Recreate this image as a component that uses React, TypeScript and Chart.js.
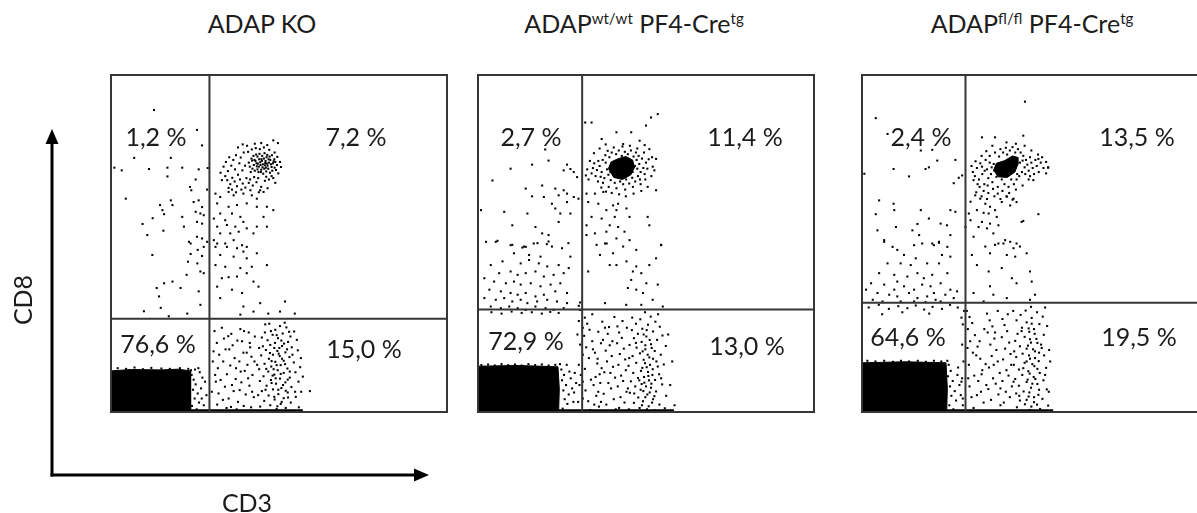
import React, { useEffect, useRef } from 'react';
import { Chart, registerables } from 'chart.js';

Chart.register(...registerables);

// ---------- axes / gates (channel units 0..1000) ----------
const AXIS_MIN = 0;
const AXIS_MAX = 1000;

// ---------- ADAP KO ----------
const koGate = [293, 277];
const koPct = ['1,2 %', '7,2 %', '76,6 %', '15,0 %'];
const koUpperLeft = [
  128,896, 256,837, 271,791, 69,754, 178,754, 10,725, 32,717, 113,721, 168,725, 212,725, 261,720, 288,724,
  168,699, 252,690, 235,668, 239,658, 286,660, 44,633, 146,614, 153,599, 178,628, 183,614, 158,587, 124,575,
  212,579, 94,558, 156,538, 108,525, 217,550, 246,623, 261,628, 271,608, 252,594, 266,589, 276,584, 256,564,
  271,559, 232,505, 256,520, 271,515, 286,505, 123,466, 237,469, 258,481, 229,446, 257,441, 266,417, 276,412,
  225,407, 158,382, 183,387, 136,368, 207,368, 261,358, 143,343, 266,318, 148,309, 98,299, 172,284, 227,292,
  271,463, 237,500, 276,490,
];
const koStream = [
  311,648, 325,638, 350,653, 365,643, 394,648, 419,643, 444,658, 454,653, 434,633, 316,619, 350,609, 375,614,
  404,619, 325,589, 360,589, 385,579, 434,609, 464,609, 306,574, 340,569, 394,564, 316,550, 345,555, 370,550,
  404,545, 434,550, 454,579, 325,530, 355,530, 380,535, 424,530, 306,510, 340,500, 365,510, 390,495, 311,490,
  404,490, 464,550, 483,599, 316,500, 345,490, 375,486, 394,476, 325,466, 365,461, 404,456, 434,471, 464,436,
  311,436, 340,431, 385,427, 419,431, 330,397, 350,400, 375,402, 404,412, 424,387, 316,372, 360,363, 390,353,
  439,372, 518,328, 394,313, 444,323, 325,338, 468,292, 385,289, 503,298, 547,292, 424,298,
];
const koUpperRight = [
  410,740, 418,752, 425,733, 430,745, 436,758, 440,728, 444,741, 448,750, 452,735, 456,722, 460,745, 463,756,
  466,731, 470,740, 474,748, 478,727, 482,738, 486,750, 421,722, 428,716, 434,729, 439,712, 447,719, 453,707,
  458,732, 462,714, 468,722, 473,710, 480,716, 487,725, 413,728, 416,712, 424,760, 432,764, 442,766, 450,760,
  457,768, 465,763, 472,758, 479,762, 489,742, 494,733, 491,718, 445,733, 449,745, 455,752, 459,739, 437,737,
  441,750, 427,748, 433,738, 451,726, 464,737, 469,750, 476,735, 484,744, 461,725, 446,712, 436,720, 420,746,
  335,728, 342,742, 348,715, 352,756, 358,731, 364,748, 369,720, 372,762, 378,704, 382,738, 386,755, 391,717,
  395,770, 399,731, 403,694, 408,772, 414,690, 419,779, 426,697, 431,783, 438,694, 443,780, 455,785, 462,698,
  471,778, 478,700, 487,770, 495,757, 498,708, 503,742, 506,727, 340,700, 346,688, 355,676, 361,695, 368,684,
  375,670, 384,690, 392,678, 400,666, 410,680, 422,672, 433,682, 447,668, 458,686, 470,690, 483,694, 489,680,
  378,785, 392,794, 405,790, 428,796, 447,798, 465,792, 350,665, 330,688, 326,710, 360,660, 372,652, 388,660,
  415,658, 440,652, 466,664, 497,798, 483,806,
];
const koLowerRightSparse = [
  308,240, 315,205, 322,170, 318,130, 312,90, 320,55, 316,22, 330,250, 336,218, 341,186, 334,150, 345,112,
  339,75, 350,40, 344,12, 358,232, 362,198, 368,160, 355,138, 371,98, 365,62, 378,30, 374,8, 385,246, 390,210,
  394,176, 382,150, 398,122, 388,88, 401,52, 395,18, 410,236, 414,192, 418,164, 406,140, 421,110, 412,78,
  425,44, 417,14, 428,224, 305,180, 310,110, 326,95, 352,186, 376,212, 404,176, 420,60, 333,36, 360,80,
  386,120, 396,240, 349,225, 372,130, 408,100, 427,150, 300,60, 303,150, 357,15, 383,65, 413,205, 592,62,
];
const koLowerRightCore = [
  471,262, 503,255, 489,244, 522,251, 545,239, 458,236, 481,229, 511,233, 534,224, 497,219, 466,213, 449,221,
  527,208, 553,214, 488,205, 509,196, 474,199, 441,190, 538,192, 461,184, 495,181, 519,177, 556,183, 482,170,
  502,166, 447,168, 531,163, 470,158, 514,152, 489,149, 544,147, 457,143, 505,139, 477,135, 525,129, 563,133,
  441,127, 496,124, 468,120, 514,116, 486,111, 549,118, 454,106, 532,102, 503,99, 476,95, 519,88, 443,92,
  491,84, 558,90, 463,78, 537,74, 507,71, 482,67, 449,62, 526,58, 498,53, 469,49, 550,45, 514,41, 487,37,
  456,33, 535,28, 505,24, 474,20, 444,16, 520,12, 493,9, 559,14, 465,5, 532,3,
  493,228, 507,212, 486,190, 515,203, 499,173, 524,186, 478,151, 509,158, 493,139, 518,142, 484,127, 505,113,
  526,96, 490,100, 512,80, 478,86, 498,66, 520,63, 486,45, 508,30, 495,17, 527,43, 481,108, 532,120, 501,190,
  473,175, 540,170, 462,128, 548,60, 460,66, 476,240, 530,238, 452,195, 565,160, 571,105, 438,50, 566,60,
  435,140, 459,260, 517,265,
];
const koLowerLeftEdge = [
  240,110, 246,96, 252,82, 244,66, 258,55, 249,40, 262,28, 241,18, 255,8, 268,70, 272,102, 264,118, 238,124,
  270,40, 250,126, 20,130, 45,128, 70,132, 95,127, 120,131, 150,129, 175,128, 205,130, 230,128, 280,90,
  276,20, 260,130, 284,50,
];
const koSolid = [0,0, 0,122, 60,126, 150,125, 200,127, 236,122, 238,60, 236,0];
const koPile = [0,4, 571,4];

// ---------- ADAP wt/wt PF4-Cre tg ----------
const wtGate = [310, 304];
const wtPct = ['2,7 %', '11,4 %', '72,9 %', '13,0 %'];
const wtUpperLeft = [
  200,779, 210,746, 161,734, 97,722, 43,687, 265,734, 275,721, 255,717, 285,712, 295,697, 191,672, 142,663,
  230,663, 255,658, 161,640, 196,638, 240,643, 265,648, 285,638, 299,633, 220,618, 265,623, 9,599, 78,594,
  147,589, 230,604, 245,589, 275,589, 102,554, 171,549, 240,564, 191,530, 210,525, 24,505, 58,508, 97,495,
  132,488, 142,490, 177,501, 210,506, 269,501, 53,505, 102,496, 137,491, 166,500, 205,498, 220,491, 250,486,
  107,471, 152,466, 186,461, 275,461, 38,436, 73,447, 127,441, 152,451, 181,441, 206,432, 240,436, 270,427,
  63,412, 97,417, 118,407, 142,412, 171,417, 196,402, 225,407, 255,412, 19,397, 48,387, 83,382, 107,387,
  127,378, 157,382, 186,373, 216,378, 245,382, 34,363, 68,358, 97,353, 118,348, 142,353, 171,343, 196,348,
  230,358, 265,353, 19,338, 53,333, 78,338, 102,328, 127,333, 147,323, 176,328, 206,333, 235,328, 265,323,
  38,313, 68,308, 93,313, 118,308, 142,303, 171,313, 201,308, 225,303, 255,308, 304,303, 300,315, 304,325,
];
const wtStream = [
  323,648, 348,648, 373,653, 328,623, 358,618, 402,613, 417,618, 382,599, 412,599, 442,604, 338,579, 368,574,
  407,579, 451,579, 505,579, 323,554, 392,554, 417,549, 348,530, 382,535, 436,535, 510,554, 530,658, 323,525,
  412,515, 451,510, 545,495, 378,500, 353,496, 383,500, 432,491, 545,496, 471,481, 328,417, 392,436, 412,436,
  442,447, 471,432, 510,436, 461,417, 486,412, 456,392, 501,382, 535,378, 446,368, 471,363, 491,353, 520,333,
  441,318, 486,318, 378,323, 550,313, 363,466, 402,471, 530,456,
];
const wtUpperRight = [
  362,730, 368,712, 371,748, 376,694, 379,762, 384,720, 388,704, 391,756, 395,688, 398,770, 403,735, 407,680,
  411,765, 415,700, 419,776, 423,684, 428,760, 432,676, 437,772, 441,690, 446,765, 450,678, 455,776, 459,695,
  463,758, 468,684, 472,748, 476,700, 480,736, 484,712, 488,752, 492,724, 496,706, 500,740, 474,722, 478,760,
  470,770, 365,698, 358,745, 386,775, 404,785, 430,788, 452,790, 474,782, 494,770, 504,722, 508,750, 372,680,
  389,668, 412,664, 438,660, 461,668, 484,676, 498,690, 380,740, 393,726, 460,712, 467,730, 394,712, 482,690,
  354,718, 350,700, 346,738, 342,724, 338,708, 333,745, 329,690, 325,720, 321,702, 357,684, 367,666, 381,654,
  398,650, 420,646, 440,640, 463,648, 486,656, 505,668, 516,700, 520,728, 518,756, 510,780, 496,792, 345,768,
  362,782, 380,794, 515,874, 535,884, 500,850, 319,859, 338,859, 412,830, 456,830, 368,810, 481,805, 432,795,
  530,751, 525,717,
];
const wtCore = [388,722, 396,742, 418,752, 440,758, 460,748, 466,726, 455,704, 430,690, 404,696];
const wtLowerRightSparse = [
  318,280, 325,262, 332,244, 316,226, 340,210, 322,192, 348,176, 330,160, 355,144, 318,128, 362,112, 336,96,
  344,80, 320,64, 352,48, 328,32, 360,16, 334,6, 370,268, 378,250, 386,232, 372,214, 392,198, 380,182, 398,166,
  384,150, 402,134, 376,118, 408,102, 388,86, 396,70, 374,54, 404,38, 382,22, 410,8, 415,254, 420,236, 428,220,
  414,204, 434,188, 422,172, 438,156, 418,140, 440,124, 426,108, 432,92, 416,76, 442,60, 424,44, 436,28,
  420,12, 358,238, 366,204, 342,186, 312,170, 356,158, 368,130, 350,104, 312,90, 364,86, 358,60, 312,40,
  346,22, 394,116, 400,210, 366,30, 390,252, 406,282, 430,270, 340,290, 312,250, 304,200, 300,140, 302,80,
  298,30, 306,110, 296,230, 300,270,
];
const wtLowerRightCore = [
  497,296, 514,283, 483,275, 528,268, 470,262, 506,259, 541,253, 489,247, 458,243, 521,239, 476,232, 549,227,
  501,224, 464,219, 533,214, 487,208, 515,201, 451,199, 559,196, 472,191, 498,186, 526,181, 482,174, 544,170,
  460,166, 510,162, 493,155, 531,150, 471,146, 553,141, 448,137, 502,133, 520,127, 485,122, 462,116, 539,112,
  507,107, 476,101, 527,95, 455,91, 495,87, 548,82, 468,76, 515,72, 484,66, 530,61, 452,57, 504,52, 560,48,
  477,43, 521,38, 491,32, 464,27, 540,22, 508,17, 481,12, 449,8, 525,5, 556,11,
  502,243, 493,230, 511,214, 498,198, 517,190, 490,180, 505,170, 521,158, 497,145, 512,140, 489,131, 506,119,
  519,110, 494,104, 509,94, 487,83, 500,76, 516,84, 492,62, 511,58, 498,44, 518,28, 488,20, 503,8, 525,47,
  480,94, 535,135, 470,205, 545,100, 465,55, 572,80, 578,150, 566,230, 585,20, 459,280, 536,290, 443,250,
  450,160, 446,70,
];
const wtLowerLeftEdge = [
  248,126, 256,110, 250,94, 262,80, 254,64, 270,52, 258,38, 266,24, 252,10, 276,100, 280,70, 272,120, 284,30,
  264,140, 244,142, 230,140, 210,138, 190,141, 170,139, 150,142, 130,138, 110,141, 90,139, 70,142, 50,138,
  30,141, 10,139, 288,116, 292,86, 286,58, 40,296, 70,292, 100,298, 130,294, 160,296, 190,292, 215,297, 240,294,
];
const wtSolid = [0,0, 0,136, 120,138, 238,134, 242,70, 240,0];
const wtPile = [0,4, 583,4];

// ---------- ADAP fl/fl PF4-Cre tg ----------
const flGate = [308, 324];
const flPct = ['2,4 %', '13,5 %', '64,6 %', '19,5 %'];
const flUpperLeft = [
  41,872, 76,825, 175,776, 209,778, 224,746, 94,721, 140,699, 189,721, 199,726, 278,748, 288,695, 298,702,
  273,679, 7,707, 51,628, 94,618, 41,587, 96,599, 175,599, 199,574, 263,599, 278,594, 165,558, 234,559,
  101,549, 150,539, 170,525, 209,500, 229,502, 263,525, 46,539, 66,510, 91,490, 155,495, 253,554, 66,505,
  105,481, 179,500, 214,495, 229,505, 254,490, 125,466, 160,456, 238,466, 263,461, 76,441, 115,441, 145,436,
  194,441, 229,441, 51,412, 96,407, 135,402, 165,412, 184,397, 209,407, 254,412, 27,382, 66,378, 105,387,
  125,373, 155,363, 179,378, 204,373, 234,382, 263,363, 12,363, 46,353, 81,348, 105,343, 140,353, 165,338,
  194,343, 219,333, 248,348, 283,358, 273,338, 32,333, 61,328, 115,328, 155,328, 189,326, 234,328, 96,363,
  214,353,
];
const flStream = [
  323,624, 337,643, 352,633, 367,618, 381,609, 342,599, 362,591, 377,589, 396,599, 401,579, 357,564, 381,559,
  406,554, 431,639, 451,633, 416,623, 441,613, 460,623, 347,549, 391,530, 323,569, 372,545, 332,520, 406,500,
  460,500, 426,510, 441,505, 318,589, 480,567, 308,549, 367,491, 396,496, 421,500, 451,486, 470,491, 327,466,
  381,471, 431,466, 456,461, 490,471, 342,436, 377,417, 416,427, 500,417, 446,397, 460,382, 381,373, 505,387,
  332,353, 391,348, 515,348, 431,338, 500,333, 362,328,
];
const flUpperRight = [
  330,712, 336,700, 342,724, 348,690, 352,738, 358,706, 364,676, 368,748, 372,720, 376,694, 380,760, 384,706,
  388,682, 392,736, 396,770, 400,698, 404,668, 408,758, 412,780, 416,690, 420,770, 424,676, 428,784, 432,764,
  436,668, 440,776, 444,690, 448,786, 452,676, 456,770, 460,690, 464,780, 468,700, 472,770, 476,712, 480,760,
  484,726, 488,748, 492,734, 496,716, 500,756, 504,740, 508,724, 512,706, 516,748, 520,730, 526,712, 532,740,
  540,724, 548,708, 386,726, 394,716, 470,740, 478,746, 486,706, 462,706, 380,740, 374,672, 362,656, 376,650,
  390,662, 404,648, 418,656, 438,650, 458,660, 478,672, 496,690, 350,668, 340,652, 356,640, 372,632, 394,640,
  412,632, 430,640, 448,630, 344,676, 332,688, 326,730, 338,744, 356,760, 370,774, 388,790, 430,800, 458,796,
  484,790, 504,776, 524,764, 536,756, 548,742, 554,726, 365,716, 357,728, 500,700, 510,688, 485,921, 480,820,
  357,815, 396,815, 525,751, 554,725, 525,587, 475,564,
];
const flCore = [392,718, 400,738, 425,746, 448,760, 462,756, 464,735, 455,712, 432,696, 405,698];
const flLowerRightSparse = [
  312,300, 320,282, 328,264, 315,246, 336,228, 322,210, 344,194, 330,176, 352,158, 318,140, 358,124, 334,108,
  346,92, 320,76, 354,60, 326,44, 362,28, 332,12, 372,292, 380,272, 388,254, 374,236, 394,218, 382,200,
  400,184, 386,166, 404,150, 378,132, 410,116, 390,100, 398,84, 376,68, 406,52, 384,36, 412,20, 418,276,
  424,258, 432,240, 416,222, 438,206, 426,188, 442,172, 420,156, 444,140, 430,124, 436,108, 418,92, 446,76,
  428,60, 440,44, 422,28, 364,246, 350,210, 340,168, 368,142, 356,112, 370,80, 342,50, 396,236, 404,300,
  434,290, 314,190, 316,100, 392,140, 412,70, 300,260, 298,200, 302,150, 296,90, 300,40, 304,300, 296,280,
];
const flLowerRightCore = [
  503,312, 487,301, 521,296, 472,288, 538,283, 505,279, 460,272, 490,266, 528,261, 551,255, 476,250, 512,246,
  498,238, 463,232, 541,229, 484,223, 519,217, 456,211, 503,206, 533,200, 470,195, 490,188, 557,184, 515,180,
  478,173, 542,168, 459,163, 500,158, 526,151, 484,146, 452,140, 513,136, 548,131, 467,126, 495,121, 529,116,
  477,110, 511,104, 456,98, 540,94, 490,89, 522,83, 467,78, 503,72, 550,67, 481,61, 459,55, 525,51, 496,46,
  537,39, 470,34, 512,29, 485,23, 554,19, 461,14, 530,9, 499,6,
  505,262, 496,248, 514,232, 500,216, 522,205, 494,197, 509,186, 527,176, 497,168, 515,160, 490,150, 507,142,
  522,128, 499,114, 516,98, 493,96, 507,84, 527,66, 498,58, 512,44, 490,36, 521,22, 504,16, 480,130, 535,190,
  475,240, 545,110, 468,48, 560,150, 556,60, 450,300, 545,310, 453,180, 451,90,
];
const flLowerLeftEdge = [
  258,140, 264,122, 256,106, 270,92, 262,76, 276,62, 266,48, 280,34, 260,20, 272,8, 284,110, 290,80, 286,132,
  294,50, 254,152, 236,150, 214,152, 190,149, 166,152, 140,150, 116,152, 92,149, 66,152, 40,150, 16,152,
  298,100, 300,20, 20,310, 50,318, 80,306, 108,314, 135,308, 160,316, 185,304, 210,312, 238,306, 262,318,
  285,310, 120,296, 200,292, 60,290,
];
const flSolid = [0,0, 0,146, 130,149, 250,146, 254,70, 252,0];
const flPile = [0,4, 569,4];

// ---------- layout (styling only) ----------
const FONT = 'Lato, "Open Sans", sans-serif';
const PANEL_TOP = 74;
const PANEL_W = 338;
const PANEL_H = 339;
const PAD = 3;

type Spec = {
  left: number;
  events: number[][];
  solid: number[][];
  pile: number[];
  gate: number[];
  pct: string[];
  labelAt: number[][];
};

const specs: Spec[] = [
  {
    left: 110,
    events: [koUpperLeft, koStream, koUpperRight, koLowerRightSparse, koLowerRightCore, koLowerLeftEdge],
    solid: [koSolid],
    pile: koPile,
    gate: koGate,
    pct: koPct,
    labelAt: [[45, 63], [245, 63], [47, 270], [253, 275]],
  },
  {
    left: 477,
    events: [wtUpperLeft, wtStream, wtUpperRight, wtLowerRightSparse, wtLowerRightCore, wtLowerLeftEdge],
    solid: [wtSolid, wtCore],
    pile: wtPile,
    gate: wtGate,
    pct: wtPct,
    labelAt: [[53, 63], [267, 63], [48, 267], [269, 272]],
  },
  {
    left: 861,
    events: [flUpperLeft, flStream, flUpperRight, flLowerRightSparse, flLowerRightCore, flLowerLeftEdge],
    solid: [flSolid, flCore],
    pile: flPile,
    gate: flGate,
    pct: flPct,
    labelAt: [[59, 63], [275, 63], [46, 263], [277, 263]],
  },
];

function pairs(flat: number[]) {
  const out: { x: number; y: number }[] = [];
  for (let i = 0; i + 1 < flat.length; i += 2) out.push({ x: flat[i], y: flat[i + 1] });
  return out;
}

function Panel({ spec }: { spec: Spec }) {
  const ref = useRef<HTMLCanvasElement | null>(null);
  useEffect(() => {
    if (!ref.current) return;
    const quadrants = {
      id: 'quadrants',
      afterDatasetsDraw(chart: any) {
        const { ctx, chartArea: a, scales } = chart;
        const gx = scales.x.getPixelForValue(spec.gate[0]);
        const gy = scales.y.getPixelForValue(spec.gate[1]);
        ctx.save();
        ctx.strokeStyle = '#363636';
        ctx.lineWidth = 2;
        ctx.strokeRect(a.left, a.top, a.right - a.left, a.bottom - a.top);
        ctx.beginPath();
        ctx.moveTo(gx, a.top);
        ctx.lineTo(gx, a.bottom);
        ctx.moveTo(a.left, gy);
        ctx.lineTo(a.right, gy);
        ctx.stroke();
        ctx.fillStyle = '#1c1c1c';
        ctx.font = `25px ${FONT}`;
        ctx.textAlign = 'center';
        ctx.textBaseline = 'middle';
        spec.pct.forEach((t, i) => {
          ctx.fillText(t, a.left + spec.labelAt[i][0], a.top + spec.labelAt[i][1]);
        });
        ctx.restore();
      },
    };
    const datasets: any[] = [
      ...spec.solid.map((poly) => {
        const pts = pairs(poly);
        pts.push(pts[0]);
        return {
          type: 'line',
          data: pts,
          fill: 'shape',
          backgroundColor: '#000',
          borderColor: '#000',
          borderWidth: 1,
          pointRadius: 0,
          tension: 0,
        };
      }),
      {
        type: 'line',
        data: pairs(spec.pile),
        borderColor: '#000',
        borderWidth: 3,
        pointRadius: 0,
        fill: false,
      },
      {
        type: 'scatter',
        data: spec.events.flatMap((p) => pairs(p)),
        pointStyle: 'rect',
        pointRadius: 1.45,
        backgroundColor: '#000',
        borderWidth: 0,
      },
    ];
    const chart = new Chart(ref.current, {
      type: 'scatter',
      data: { datasets },
      options: {
        animation: false,
        responsive: false,
        maintainAspectRatio: false,
        events: [],
        layout: { padding: PAD },
        plugins: { legend: { display: false }, tooltip: { enabled: false } },
        scales: {
          x: { type: 'linear', min: AXIS_MIN, max: AXIS_MAX, display: false },
          y: { type: 'linear', min: AXIS_MIN, max: AXIS_MAX, display: false },
        },
      },
      plugins: [quadrants],
    } as any);
    return () => chart.destroy();
  }, [spec]);
  const w = PANEL_W + 2 * PAD;
  const h = PANEL_H + 2 * PAD;
  return (
    <canvas
      ref={ref}
      width={w}
      height={h}
      style={{ position: 'absolute', left: spec.left - PAD, top: PANEL_TOP - PAD, width: w, height: h }}
    />
  );
}

const titleStyle: React.CSSProperties = {
  position: 'absolute',
  top: 8,
  width: 320,
  textAlign: 'center',
  font: `25px ${FONT}`,
  lineHeight: '30px',
  color: '#1c1c1c',
  whiteSpace: 'nowrap',
};
const supStyle: React.CSSProperties = { fontSize: 15, position: 'relative', top: -9 };

export default function App() {
  return (
    <div
      style={{
        position: 'absolute',
        left: 0,
        top: 0,
        width: 1197,
        height: 513,
        overflow: 'hidden',
        background: '#fff',
      }}
    >
      <div style={{ ...titleStyle, left: 262 - 160 }}>ADAP KO</div>
      <div style={{ ...titleStyle, left: 634 - 160 }}>
        ADAP<span style={supStyle}>wt/wt</span> PF4-Cre<span style={supStyle}>tg</span>
      </div>
      <div style={{ ...titleStyle, left: 1032 - 160 }}>
        ADAP<span style={supStyle}>fl/fl</span> PF4-Cre<span style={supStyle}>tg</span>
      </div>
      {specs.map((s, i) => (
        <Panel key={i} spec={s} />
      ))}
      <svg width={450} height={513} style={{ position: 'absolute', left: 0, top: 0 }}>
        <line x1={52} y1={476.5} x2={52} y2={140} stroke="#000" strokeWidth={3} />
        <polygon points="52,129 45.5,144 58.5,144" fill="#000" />
        <line x1={50.5} y1={475} x2={417} y2={475} stroke="#000" strokeWidth={3} />
        <polygon points="429,475 414,468.5 414,481.5" fill="#000" />
      </svg>
      <div
        style={{
          position: 'absolute',
          left: 22,
          top: 300,
          transform: 'translate(-50%, -50%) rotate(-90deg)',
          font: `25px ${FONT}`,
          color: '#1c1c1c',
          whiteSpace: 'nowrap',
        }}
      >
        CD8
      </div>
      <div
        style={{
          position: 'absolute',
          left: 247,
          top: 502,
          transform: 'translate(-50%, -50%)',
          font: `25px ${FONT}`,
          color: '#1c1c1c',
          whiteSpace: 'nowrap',
        }}
      >
        CD3
      </div>
    </div>
  );
}
